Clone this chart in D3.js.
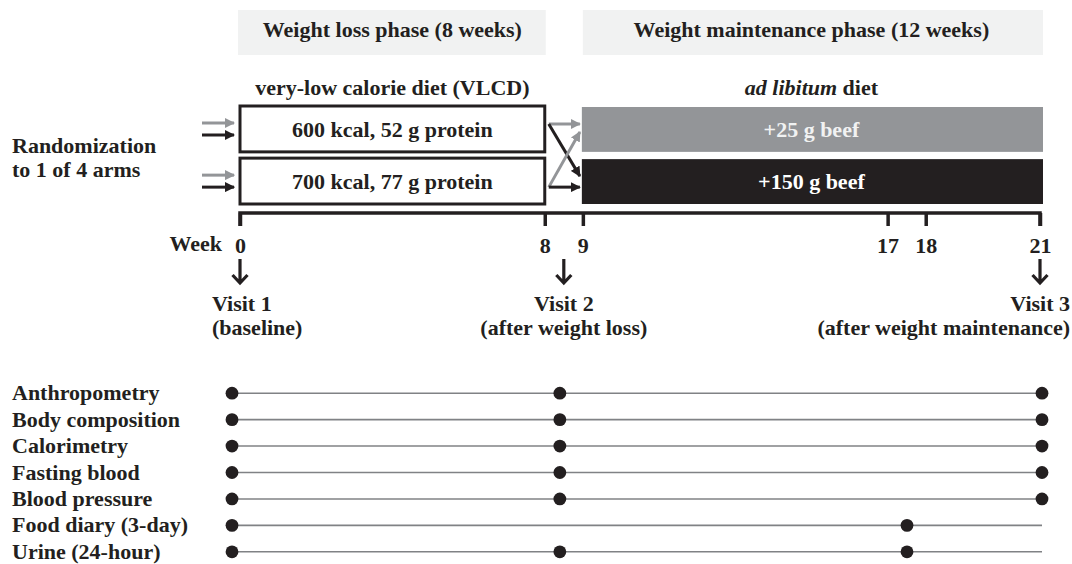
<!DOCTYPE html>
<html>
<head>
<meta charset="utf-8">
<script src="https://cdn.jsdelivr.net/npm/d3@7.9.0/dist/d3.min.js"></script>
<style>
  body { margin: 0; background: #fff; }
  svg text { font-family: "Liberation Serif", "Times New Roman", serif; font-weight: bold; fill: #231f20; font-size: 22px; }
</style>
</head>
<body>
<svg id="chart" width="1072" height="564"></svg>
<script>
// phases (weeks)
const phases = [
  { label: 'Weight loss phase (8 weeks)', start: 0, end: 8 },
  { label: 'Weight maintenance phase (12 weeks)', start: 9, end: 21 }
];
const dietLoss = ['600 kcal, 52 g protein', '700 kcal, 77 g protein'];
const dietMaint = ['+25 g beef', '+150 g beef'];
// arms: [vlcd index, beef index]
const arms = [[0, 0], [0, 1], [1, 0], [1, 1]];
const weekTicks = [0, 8, 9, 17, 18, 21];
const visits = [
  { week: 0, name: 'Visit 1', note: '(baseline)', anchor: 'start' },
  { week: 8.5, name: 'Visit 2', note: '(after weight loss)', anchor: 'middle' },
  { week: 21, name: 'Visit 3', note: '(after weight maintenance)', anchor: 'end' }
];
const measures = ['Anthropometry', 'Body composition', 'Calorimetry', 'Fasting blood',
  'Blood pressure', 'Food diary (3-day)', 'Urine (24-hour)'];
const measureWeeks = [
  [0, 8.5, 21], [0, 8.5, 21], [0, 8.5, 21], [0, 8.5, 21], [0, 8.5, 21],
  [0, 17.5], [0, 8.5, 17.5]
];

const ink = '#231f20', grey = '#939598';
const beefColor = [grey, ink];
const arrowColor = ['#939598', ink];

const svg = d3.select('#chart');
const x = d3.scaleLinear().domain([0, 21]).range([240, 1040]);
const xDot = d3.scaleLinear().domain([0, 21]).range([232, 1042]);
const yArm = d3.scaleBand().domain(d3.range(2)).range([106, 204]).paddingInner(0.12);
const yRow = d3.scaleBand().domain(measures).range([380, 565]);

// arrow markers
const defs = svg.append('defs');
arrowColor.forEach((c, i) => {
  defs.append('marker')
    .attr('id', 'ah' + i).attr('viewBox', '0 0 10 10')
    .attr('refX', 9).attr('refY', 5)
    .attr('markerWidth', 3.4).attr('markerHeight', 3.4)
    .attr('orient', 'auto')
    .append('path').attr('d', 'M0,0L10,5L0,10Z').attr('fill', c);
});

// phase headers
svg.selectAll('.phase').data(phases).join('rect')
  .attr('x', (d, i) => x(d.start) - (i ? 0 : 2))
  .attr('width', d => x(d.end) - x(d.start) + 3)
  .attr('y', 10).attr('height', 45)
  .attr('fill', '#f1f2f2');
svg.selectAll('.phaseT').data(phases).join('text')
  .attr('x', d => (x(d.start) + x(d.end)) / 2).attr('y', 37)
  .attr('text-anchor', 'middle')
  .text(d => d.label);

svg.append('text').attr('x', (x(0) + x(8)) / 2).attr('y', 95)
  .attr('text-anchor', 'middle')
  .text('very-low calorie diet (VLCD)');
const adlib = svg.append('text').attr('x', (x(9) + x(21)) / 2).attr('y', 95)
  .attr('text-anchor', 'middle');
adlib.append('tspan').attr('font-style', 'italic').text('ad libitum');
adlib.append('tspan').text(' diet');

// VLCD boxes
svg.selectAll('.box').data(dietLoss).join('rect')
  .attr('x', x(0)).attr('width', x(8) - x(0))
  .attr('y', (d, i) => yArm(i)).attr('height', yArm.bandwidth())
  .attr('fill', 'none').attr('stroke', ink).attr('stroke-width', 3);
svg.selectAll('.boxT').data(dietLoss).join('text')
  .attr('x', (x(0) + x(8)) / 2).attr('y', (d, i) => yArm(i) + 31)
  .attr('text-anchor', 'middle')
  .text(d => d);

// beef bars
svg.selectAll('.bar').data(dietMaint).join('rect')
  .attr('x', x(9) - 1).attr('width', x(21) - x(9) + 4)
  .attr('y', (d, i) => yArm(i) + 1).attr('height', yArm.bandwidth() - 1)
  .attr('fill', (d, i) => beefColor[i]);
svg.selectAll('.barT').data(dietMaint).join('text')
  .attr('x', (x(9) + x(21)) / 2).attr('y', (d, i) => yArm(i) + 31)
  .attr('text-anchor', 'middle')
  .style('fill', (d, i) => i ? '#ffffff' : '#f1f2f2')
  .text(d => d);

// randomization
svg.append('text').attr('x', 12).attr('y', 153).text('Randomization');
svg.append('text').attr('x', 12).attr('y', 177).text('to 1 of 4 arms');

// entry arrows, left of boxes
svg.selectAll('.inArrow').data(arms).join('line')
  .attr('x1', 202).attr('x2', 234)
  .attr('y1', d => yArm(d[0]) + (d[1] ? 29 : 17))
  .attr('y2', d => yArm(d[0]) + (d[1] ? 29 : 17))
  .attr('stroke', d => arrowColor[d[1]]).attr('stroke-width', 3)
  .attr('marker-end', d => `url(#ah${d[1]})`);

// crossover arrows to beef arms
svg.selectAll('.armArrow').data(arms).join('line')
  .attr('x1', x(8) + 4).attr('x2', x(9) - 3)
  .attr('y1', d => yArm(d[0]) + (d[0] ? 29 : 18))
  .attr('y2', d => d[0] === d[1] ? yArm(d[0]) + (d[0] ? 29 : 18) : yArm(d[1]) + (d[1] ? 18 : 26))
  .attr('stroke', d => arrowColor[d[1]]).attr('stroke-width', 3)
  .attr('marker-end', d => `url(#ah${d[1]})`);

// week axis
const axis = d3.axisBottom(x).tickValues(weekTicks).tickSize(13).tickPadding(11).tickFormat(d3.format('d'));
const gAxis = svg.append('g').attr('transform', 'translate(0,213)').call(axis);
gAxis.select('.domain').attr('d', `M${x(0)},13V0H${x(21)}V13`).attr('stroke', ink).attr('stroke-width', 3.5).attr('fill', 'none');
gAxis.selectAll('.tick line').attr('stroke', ink).attr('stroke-width', 3.5);
gAxis.selectAll('.tick text').attr('font-size', null).attr('font-family', null).style('fill', ink);
svg.append('text').attr('x', x(0) - 18).attr('y', 251).attr('text-anchor', 'end')
  .text('Week');

// visit arrows
const gv = svg.selectAll('.visit').data(visits).join('g')
  .attr('transform', d => `translate(${x(d.week)},0)`);
gv.append('path').attr('d', 'M0,259V283M-7.5,275L0,283L7.5,275')
  .attr('fill', 'none').attr('stroke', ink).attr('stroke-width', 3.2);
const lx = d => d.anchor === 'start' ? -28 : d.anchor === 'end' ? 30 : 0;
gv.append('text').attr('x', lx).attr('y', 311)
  .attr('text-anchor', d => d.anchor).text(d => d.name);
gv.append('text').attr('x', lx).attr('y', 335)
  .attr('text-anchor', d => d.anchor).text(d => d.note);

// assessment schedule
const rows = svg.selectAll('.row').data(measures).join('g')
  .attr('transform', d => `translate(0,${yRow(d) + yRow.bandwidth() / 2})`);
rows.append('text').attr('x', 12).attr('y', 7).text(d => d);
rows.append('line').attr('x1', xDot(0)).attr('x2', xDot(21))
  .attr('stroke', '#808285').attr('stroke-width', 1.6);
rows.selectAll('circle').data((d, i) => measureWeeks[i]).join('circle')
  .attr('cx', d => xDot(d)).attr('r', 6.4).attr('fill', ink);
</script>
</body>
</html>
